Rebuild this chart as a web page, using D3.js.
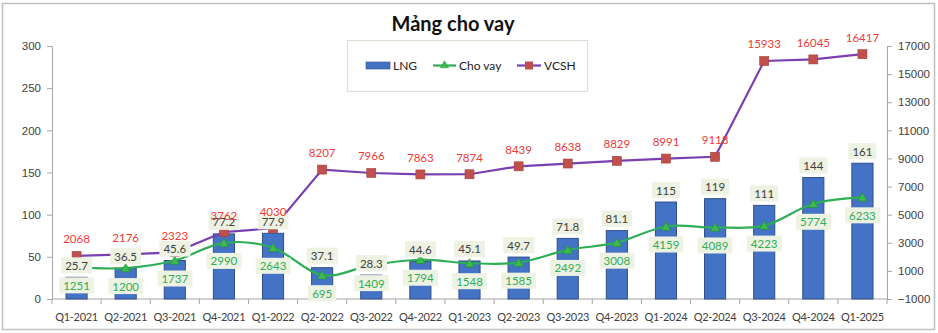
<!DOCTYPE html>
<html>
<head>
<meta charset="utf-8">
<script src="https://cdn.jsdelivr.net/npm/d3@7"></script>
<style>
  html, body { margin: 0; padding: 0; background: #fff; }
  svg { display: block; font-family: "Lato", "Open Sans", "Liberation Sans", sans-serif; }
</style>
</head>
<body>
<svg id="chart" width="938" height="333"></svg>
<script>
// Quarterly lending segment data
const quarters = ["Q1-2021","Q2-2021","Q3-2021","Q4-2021","Q1-2022","Q2-2022","Q3-2022","Q4-2022",
  "Q1-2023","Q2-2023","Q3-2023","Q4-2023","Q1-2024","Q2-2024","Q3-2024","Q4-2024","Q1-2025"];
const lng    = [25.7, 36.5, 45.6, 77.2, 77.9, 37.1, 28.3, 44.6, 45.1, 49.7, 71.8, 81.1, 115, 119, 111, 144, 161];
const choVay = [1251, 1200, 1737, 2990, 2643, 695, 1409, 1794, 1548, 1585, 2492, 3008, 4159, 4089, 4223, 5774, 6233];
const vcsh   = [2068, 2176, 2323, 3762, 4030, 8207, 7966, 7863, 7874, 8439, 8638, 8829, 8991, 9118, 15933, 16045, 16417];
const leftTicks  = [0, 50, 100, 150, 200, 250, 300];
const rightTicks = [-1000, 1000, 3000, 5000, 7000, 9000, 11000, 13000, 15000, 17000];

const svg = d3.select("#chart");
const W = 938, H = 333;
const plot = { left: 52, right: 887, top: 46, bottom: 299 };

const C = {
  bar: "#4472C4", barEdge: "#2F4E8C",
  green: "#2EAE55", greenMark: "#3DBA4E", greenEdge: "#1E8A3A",
  purple: "#7A3FB0", red: "#C0504D", redText: "#EE3B36",
  axis: "#A6A6A6", tickText: "#404040", box: "#EDF2E2"
};

// Outer frame
svg.append("rect").attr("x", 2.5).attr("y", 3.5).attr("width", W - 6).attr("height", H - 7)
  .attr("fill", "#fff").attr("stroke", "#BFBFBF").attr("stroke-width", 1.5);

// Scales
const x = d3.scaleBand().domain(quarters).range([plot.left, plot.right]).paddingInner(0.57).paddingOuter(0.285);
const xc = d => x(d) + x.bandwidth() / 2;
const yL = d3.scaleLinear().domain([0, 300]).range([plot.bottom, plot.top]);
const yR = d3.scaleLinear().domain([-1000, 17000]).range([plot.bottom, plot.top]);

// Axes
function styleAxis(g) {
  g.select(".domain").attr("stroke", C.axis);
  g.selectAll(".tick line").attr("stroke", C.axis);
  g.selectAll(".tick text").attr("fill", C.tickText).style("font-size", "11.5px");
}
svg.append("g").attr("transform", `translate(${plot.left},0)`)
  .call(d3.axisLeft(yL).tickValues(leftTicks).tickSize(5).tickSizeOuter(0).tickPadding(6))
  .call(styleAxis);
svg.append("g").attr("transform", `translate(${plot.right},0)`)
  .call(d3.axisRight(yR).tickValues(rightTicks).tickFormat(d3.format("d")).tickSize(5).tickSizeOuter(0).tickPadding(6))
  .call(styleAxis);

// Category axis with ticks at band boundaries
const xAxis = svg.append("g").attr("transform", `translate(0,${plot.bottom})`);
xAxis.append("line").attr("x1", plot.left).attr("x2", plot.right).attr("stroke", C.axis);
const bounds = d3.range(quarters.length + 1).map(i => plot.left + i * (plot.right - plot.left) / quarters.length);
xAxis.selectAll("line.tk").data(bounds).join("line").attr("class", "tk")
  .attr("x1", d => d).attr("x2", d => d).attr("y1", 0).attr("y2", 5).attr("stroke", C.axis);
xAxis.selectAll("text").data(quarters).join("text")
  .attr("x", d => xc(d)).attr("y", 22).attr("text-anchor", "middle")
  .attr("fill", C.tickText).style("font-size", "11px").style("letter-spacing", "-0.3px").text(d => d);

// Bars (LNG, left axis)
svg.append("g").selectAll("rect").data(quarters).join("rect")
  .attr("x", d => x(d)).attr("width", x.bandwidth())
  .attr("y", (d, i) => yL(lng[i])).attr("height", (d, i) => yL(0) - yL(lng[i]))
  .attr("fill", C.bar).attr("stroke", C.barEdge).attr("stroke-width", 1);

// VCSH line (right axis)
const vLine = d3.line().x((d, i) => xc(quarters[i])).y(d => yR(d));
svg.append("path").datum(vcsh).attr("d", vLine).attr("fill", "none")
  .attr("stroke", C.purple).attr("stroke-width", 2.2);

// Cho vay smoothed line (right axis)
const cLine = d3.line().x((d, i) => xc(quarters[i])).y(d => yR(d)).curve(d3.curveCatmullRom.alpha(0));
svg.append("path").datum(choVay).attr("d", cLine).attr("fill", "none")
  .attr("stroke", C.green).attr("stroke-width", 2.2);

// Markers
svg.append("g").selectAll("rect").data(vcsh).join("rect")
  .attr("x", (d, i) => xc(quarters[i]) - 4.5).attr("y", d => yR(d) - 4.5)
  .attr("width", 9).attr("height", 9).attr("fill", C.red).attr("stroke", "#A33F3C").attr("stroke-width", 0.6);
const tri = d3.symbol().type(d3.symbolTriangle).size(40);
svg.append("g").selectAll("path").data(choVay).join("path")
  .attr("transform", (d, i) => `translate(${xc(quarters[i])},${yR(d) + 1})`)
  .attr("d", tri).attr("fill", C.greenMark).attr("stroke", C.greenEdge).attr("stroke-width", 0.6);

// Data labels: boxed labels for LNG and Cho vay, plain red labels for VCSH on top
const labelSize = "11.5px";
function boxedLabel(g, cx, cy, text, color) {
  const t = g.append("text").attr("x", cx).attr("y", cy).attr("text-anchor", "middle")
    .attr("dominant-baseline", "central").attr("fill", color).style("font-size", labelSize).text(text);
  const bb = t.node().getBBox();
  g.insert("rect", () => t.node())
    .attr("x", bb.x - 4).attr("y", cy - 8).attr("width", bb.width + 8).attr("height", 16)
    .attr("fill", C.box);
}

const cLabels = svg.append("g");
choVay.forEach((v, i) => boxedLabel(cLabels.append("g"), xc(quarters[i]), yR(v) + 18, v, C.green));
const lLabels = svg.append("g");
lng.forEach((v, i) => boxedLabel(lLabels.append("g"), xc(quarters[i]), yL(v) - 12, v, "#3F3F3F"));
const vLabels = svg.append("g");
vcsh.forEach((v, i) => {
  vLabels.append("text").attr("x", xc(quarters[i])).attr("y", yR(v) - 17)
    .attr("text-anchor", "middle").attr("dominant-baseline", "central")
    .attr("fill", C.redText).style("font-size", labelSize).text(v);
});

// Title
svg.append("text").attr("x", 453).attr("y", 31).attr("text-anchor", "middle")
  .style("font-size", "20px").style("font-weight", "bold").attr("fill", "#111").text("Mảng cho vay");

// Legend
const lg = svg.append("g");
lg.append("rect").attr("x", 347.5).attr("y", 40.5).attr("width", 240).attr("height", 51)
  .attr("fill", "#fff").attr("stroke", "#DADCCF");
const ly = 65.5;
lg.append("rect").attr("x", 366).attr("y", ly - 3.5).attr("width", 24).attr("height", 7)
  .attr("fill", C.bar).attr("stroke", C.barEdge).attr("stroke-width", 0.6);
lg.append("text").attr("x", 393).attr("y", ly).attr("dominant-baseline", "central")
  .style("font-size", "12px").attr("fill", "#222").text("LNG");
lg.append("line").attr("x1", 433).attr("x2", 456).attr("y1", ly).attr("y2", ly)
  .attr("stroke", C.green).attr("stroke-width", 2.2);
lg.append("path").attr("transform", `translate(444.5,${ly})`).attr("d", d3.symbol().type(d3.symbolTriangle).size(28))
  .attr("fill", C.greenMark).attr("stroke", C.greenEdge).attr("stroke-width", 0.5);
lg.append("text").attr("x", 459).attr("y", ly).attr("dominant-baseline", "central")
  .style("font-size", "12px").attr("fill", "#222").text("Cho vay");
lg.append("line").attr("x1", 517).attr("x2", 541).attr("y1", ly).attr("y2", ly)
  .attr("stroke", C.purple).attr("stroke-width", 2.2);
lg.append("rect").attr("x", 525).attr("y", ly - 4).attr("width", 8).attr("height", 8).attr("fill", C.red);
lg.append("text").attr("x", 544).attr("y", ly).attr("dominant-baseline", "central")
  .style("font-size", "12px").attr("fill", "#222").text("VCSH");
</script>
</body>
</html>
